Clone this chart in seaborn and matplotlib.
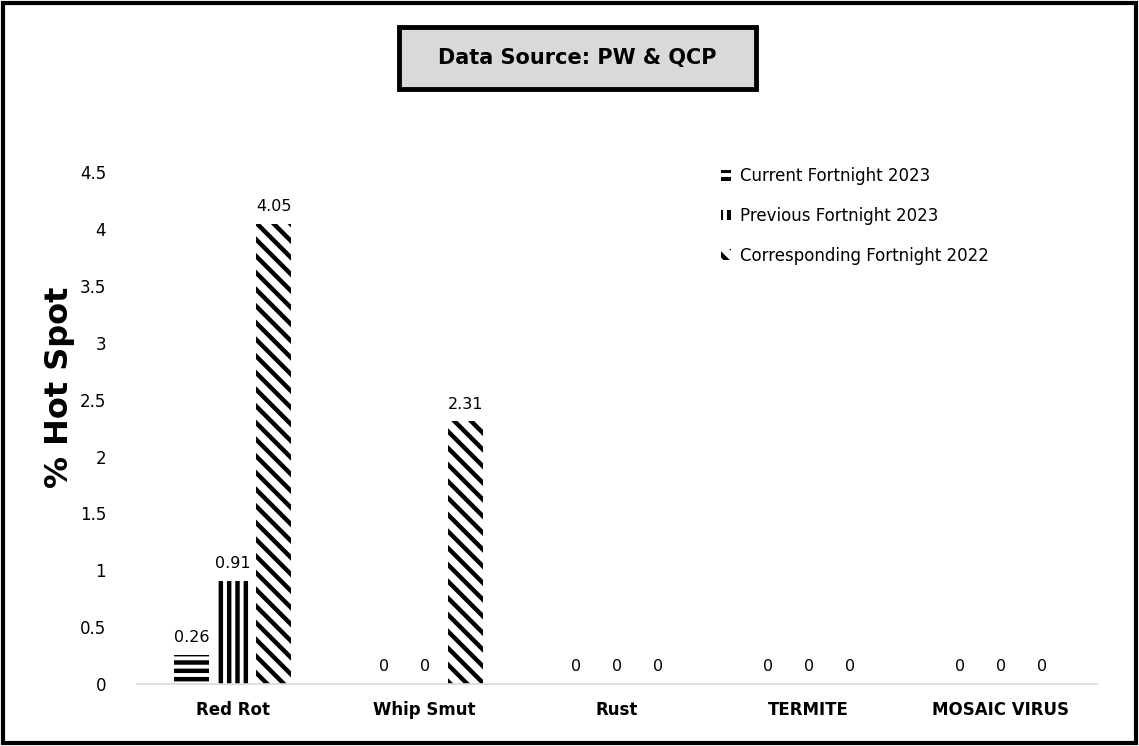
import matplotlib
matplotlib.use('Agg')
import numpy as np
import pandas as pd
import seaborn as sns
import matplotlib.pyplot as plt
from matplotlib.patches import Rectangle
from matplotlib.ticker import FormatStrFormatter

# data
diseases = ['Red Rot', 'Whip Smut', 'Rust', 'TERMITE', 'MOSAIC VIRUS']
series_names = ['Current Fortnight 2023', 'Previous Fortnight 2023', 'Corresponding Fortnight 2022']
current_2023 = [0.26, 0, 0, 0, 0]
previous_2023 = [0.91, 0, 0, 0, 0]
corresponding_2022 = [4.05, 2.31, 0, 0, 0]
y_ticks = [0, 0.5, 1, 1.5, 2, 2.5, 3, 3.5, 4, 4.5]

df = pd.DataFrame({
    'Disease': diseases * 3,
    'Series': [series_names[0]] * 5 + [series_names[1]] * 5 + [series_names[2]] * 5,
    'Value': current_2023 + previous_2023 + corresponding_2022,
})

sns.set_style('white')
plt.rcParams['font.family'] = ['DejaVu Sans']
plt.rcParams['hatch.linewidth'] = 3.2
plt.rcParams['text.color'] = 'black'
plt.rcParams['axes.labelcolor'] = 'black'
plt.rcParams['xtick.color'] = 'black'
plt.rcParams['ytick.color'] = 'black'

fig = plt.figure(figsize=(11.39, 7.46), dpi=100)
ax = fig.add_axes([0.120, 0.083, 0.843, 0.686])

sns.barplot(data=df, x='Disease', y='Value', hue='Series', ax=ax,
            palette=['white'] * 3, width=0.64, gap=0.15, errorbar=None,
            edgecolor='black', linewidth=0, legend=False)

hatches = ['--', '||', '\\\\']
for cont, h in zip(ax.containers, hatches):
    for p in cont.patches:
        p.set_hatch(h)
        p.set_edgecolor('black')
        p.set_linewidth(0)
    ax.bar_label(cont, labels=['%g' % v for v in cont.datavalues],
                 padding=7, fontsize=11.5, color='black')

ax.set_ylim(0, 4.5)
ax.set_yticks(y_ticks)
ax.yaxis.set_major_formatter(FormatStrFormatter('%g'))
ax.tick_params(length=0, labelsize=12)
ax.tick_params(axis='y', pad=22)
ax.tick_params(axis='x', pad=12)
for lbl in ax.get_xticklabels():
    lbl.set_fontweight('bold')
ax.set_xlabel('')
ax.set_ylabel('% Hot Spot', fontsize=23, fontweight='bold')
ax.yaxis.set_label_coords(-0.064, 0.58)
for s in ['top', 'right', 'left']:
    ax.spines[s].set_visible(False)
ax.spines['bottom'].set_color('#d9d9d9')
ax.spines['bottom'].set_linewidth(1.2)

handles = [cont.patches[0] for cont in ax.containers]
fig.legend(handles, series_names, loc='upper left', bbox_to_anchor=(0.62, 0.796),
           frameon=False, fontsize=12, handlelength=0.6, handleheight=0.6,
           handletextpad=0.5, labelspacing=1.3)

# title box
fig.patches.append(Rectangle((0.350, 0.881), 0.314, 0.083, transform=fig.transFigure,
                             facecolor='#d9d9d9', edgecolor='black', linewidth=3.5))
fig.text(0.507, 0.922, 'Data Source: PW & QCP', ha='center', va='center',
         fontsize=15, fontweight='bold')

# outer border
fig.patches.append(Rectangle((0.003, 0.004), 0.994, 0.992, transform=fig.transFigure,
                             facecolor='none', edgecolor='black', linewidth=3))

fig.savefig('out.png', dpi=100)
